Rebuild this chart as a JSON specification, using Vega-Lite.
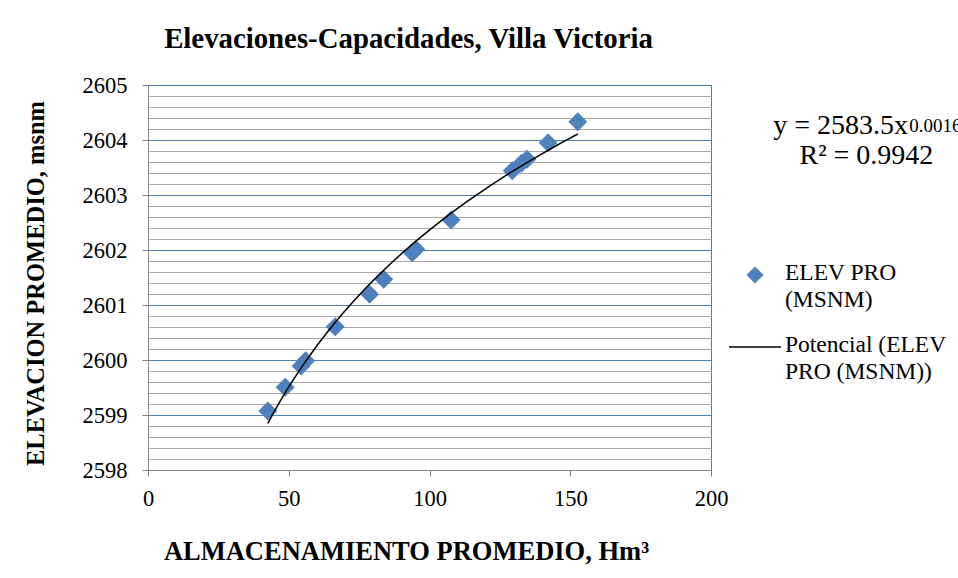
{
  "$schema": "https://vega.github.io/schema/vega-lite/v6.json",
  "width": 563,
  "height": 385,
  "autosize": {"type": "none"},
  "padding": {"left": 148, "top": 85, "right": 247, "bottom": 108},
  "background": "white",
  "title": {
    "text": "Elevaciones-Capacidades,  Villa Victoria",
    "font": "Liberation Serif",
    "fontSize": 28.8,
    "fontWeight": "bold",
    "color": "black",
    "anchor": "middle",
    "dx": -21,
    "offset": -3,
    "baseline": "alphabetic"
  },
  "config": {
    "view": {"stroke": "#4A7EBB", "strokeWidth": 1},
    "font": "Liberation Serif",
    "legend": {"padding": 0}
  },
  "datasets": {
    "elev": [
      {"ALM": 42.56, "ELEV": 2599.073},
      {"ALM": 48.74, "ELEV": 2599.504},
      {"ALM": 54.39, "ELEV": 2599.891},
      {"ALM": 55.99, "ELEV": 2599.987},
      {"ALM": 66.5, "ELEV": 2600.605},
      {"ALM": 78.72, "ELEV": 2601.195},
      {"ALM": 83.73, "ELEV": 2601.467},
      {"ALM": 93.85, "ELEV": 2601.951},
      {"ALM": 95.17, "ELEV": 2602.013},
      {"ALM": 107.67, "ELEV": 2602.545},
      {"ALM": 129.38, "ELEV": 2603.442},
      {"ALM": 132.68, "ELEV": 2603.576},
      {"ALM": 134.64, "ELEV": 2603.649},
      {"ALM": 142.13, "ELEV": 2603.951},
      {"ALM": 152.68, "ELEV": 2604.333}
    ]
  },
  "layer": [
    {
      "data": {"name": "elev"},
      "mark": {"type": "point", "shape": "diamond", "filled": true, "size": 360, "opacity": 1},
      "encoding": {
        "x": {
          "field": "ALM", "type": "quantitative",
          "scale": {"domain": [0, 200], "nice": false, "zero": false},
          "axis": {
            "title": "ALMACENAMIENTO PROMEDIO, Hm³",
            "values": [0, 50, 100, 150, 200],
            "grid": false,
            "labelFlush": false,
            "domainColor": "#868686", "tickColor": "#868686", "tickSize": 6,
            "labelPadding": 11, "labelFontSize": 22.5, "labelColor": "black", "labelFont": "Liberation Serif",
            "titleFont": "Liberation Serif", "titleFontSize": 26.5, "titleFontWeight": "bold", "titleColor": "black",
            "titleX": 258, "titleY": 81, "titleBaseline": "middle", "titleAlign": "center"
          }
        },
        "y": {
          "field": "ELEV", "type": "quantitative",
          "scale": {"domain": [2598, 2605], "nice": false, "zero": false},
          "axis": {
            "orient": "left",
            "title": "ELEVACION PROMEDIO, msnm",
            "values": [2598, 2599, 2600, 2601, 2602, 2603, 2604, 2605],
            "format": "d",
            "labelFlush": false,
            "grid": true, "gridColor": "#4A7EBB", "gridWidth": 1,
            "domainColor": "#868686", "tickColor": "#868686", "tickSize": 6,
            "labelPadding": 15, "labelFontSize": 22.5, "labelColor": "black", "labelFont": "Liberation Serif",
            "titleFont": "Liberation Serif", "titleFontSize": 24.5, "titleFontWeight": "bold", "titleColor": "black",
            "titleX": -112, "titleY": 198, "titleAngle": -90, "titleBaseline": "middle", "titleAlign": "center"
          }
        },
        "color": {
          "datum": "ELEV PRO (MSNM)",
          "scale": {"domain": ["ELEV PRO (MSNM)", "Potencial (ELEV PRO (MSNM))"], "range": ["#4F81BD", "black"]},
          "legend": {
            "title": null,
            "orient": "none",
            "legendX": 580,
            "legendY": 163,
            "symbolSize": 2704,
            "labelOffset": 3,
            "labelFontSize": 23.5,
            "labelFont": "Liberation Serif",
            "labelColor": "black",
            "labelLimit": 400,
            "labelBaseline": "alphabetic",
            "rowPadding": 8,
            "labelExpr": "datum.label === 'ELEV PRO (MSNM)' ? ['ELEV PRO', '(MSNM)'] : ['Potencial (ELEV', 'PRO (MSNM))']",
            "encode": {
              "symbols": {
                "update": {
                  "shape": {"signal": "datum.value === 'ELEV PRO (MSNM)' ? 'diamond' : 'stroke'"},
                  "size": {"signal": "datum.value === 'ELEV PRO (MSNM)' ? 225 : 2704"},
                  "fill": {"signal": "datum.value === 'ELEV PRO (MSNM)' ? '#4F81BD' : 'transparent'"},
                  "stroke": {"signal": "datum.value === 'ELEV PRO (MSNM)' ? 'transparent' : 'black'"},
                  "strokeWidth": {"value": 1.5},
                  "opacity": {"value": 1}
                }
              },
              "labels": {
                "update": {
                  "dy": {"value": 5},
                  "lineHeight": {"value": 27}
                }
              }
            }
          }
        }
      }
    },
    {
      "data": {"name": "elev"},
      "transform": [{"regression": "ELEV", "on": "ALM", "method": "pow"}],
      "mark": {"type": "line", "strokeWidth": 1.5},
      "encoding": {
        "x": {"field": "ALM", "type": "quantitative", "axis": {"title": "ALMACENAMIENTO PROMEDIO, Hm³"}},
        "y": {
          "field": "ELEV", "type": "quantitative",
          "axis": {
            "orient": "left",
            "values": [2598.2, 2598.4, 2598.6, 2598.8, 2599.2, 2599.4, 2599.6, 2599.8, 2600.2, 2600.4, 2600.6, 2600.8, 2601.2, 2601.4, 2601.6, 2601.8, 2602.2, 2602.4, 2602.6, 2602.8, 2603.2, 2603.4, 2603.6, 2603.8, 2604.2, 2604.4, 2604.6, 2604.8],
            "grid": true, "gridColor": "#A6A6A6", "gridWidth": 1,
            "ticks": false, "labels": false, "domain": false, "title": null
          }
        },
        "color": {
          "datum": "Potencial (ELEV PRO (MSNM))",
          "legend": {
            "title": null,
            "orient": "none",
            "legendX": 580,
            "legendY": 163,
            "symbolSize": 2704,
            "labelOffset": 3,
            "labelFontSize": 23.5,
            "labelFont": "Liberation Serif",
            "labelColor": "black",
            "labelLimit": 400,
            "labelBaseline": "alphabetic",
            "rowPadding": 8,
            "labelExpr": "datum.label === 'ELEV PRO (MSNM)' ? ['ELEV PRO', '(MSNM)'] : ['Potencial (ELEV', 'PRO (MSNM))']",
            "encode": {
              "symbols": {
                "update": {
                  "shape": {"signal": "datum.value === 'ELEV PRO (MSNM)' ? 'diamond' : 'stroke'"},
                  "size": {"signal": "datum.value === 'ELEV PRO (MSNM)' ? 225 : 2704"},
                  "fill": {"signal": "datum.value === 'ELEV PRO (MSNM)' ? '#4F81BD' : 'transparent'"},
                  "stroke": {"signal": "datum.value === 'ELEV PRO (MSNM)' ? 'transparent' : 'black'"},
                  "strokeWidth": {"value": 1.5},
                  "opacity": {"value": 1}
                }
              },
              "labels": {
                "update": {
                  "dy": {"value": 5},
                  "lineHeight": {"value": 27}
                }
              }
            }
          }
        }
      }
    },
    {
      "data": {"values": [{"t": "y = 2583.5x"}]},
      "mark": {"type": "text", "align": "right", "baseline": "alphabetic", "fontSize": 28, "font": "Liberation Serif", "color": "black", "clip": false},
      "encoding": {
        "text": {"field": "t"},
        "x": {"datum": 270, "type": "quantitative"},
        "y": {"datum": 2604.109, "type": "quantitative", "axis": null}
      }
    },
    {
      "data": {"values": [{"t": "0.0016"}]},
      "mark": {"type": "text", "align": "left", "baseline": "alphabetic", "fontSize": 19, "font": "Liberation Serif", "color": "black", "clip": false},
      "encoding": {
        "text": {"field": "t"},
        "x": {"datum": 270.4, "type": "quantitative"},
        "y": {"datum": 2604.145, "type": "quantitative", "axis": null}
      }
    },
    {
      "data": {"values": [{"t": "R² = 0.9942"}]},
      "mark": {"type": "text", "align": "center", "baseline": "alphabetic", "fontSize": 28, "font": "Liberation Serif", "color": "black", "clip": false},
      "encoding": {
        "text": {"field": "t"},
        "x": {"datum": 255.2, "type": "quantitative"},
        "y": {"datum": 2603.564, "type": "quantitative", "axis": null}
      }
    }
  ],
  "resolve": {"axis": {"y": "independent"}}
}
